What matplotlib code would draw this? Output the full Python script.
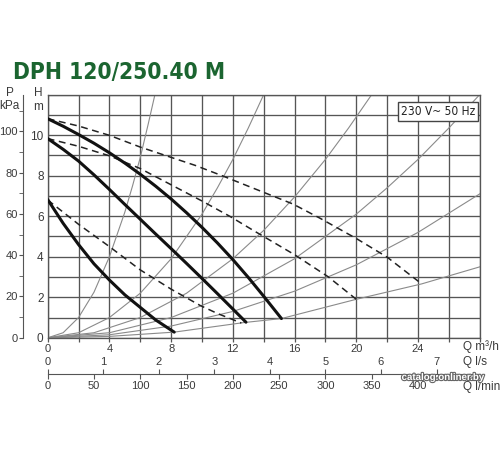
import os
import numpy as np
import matplotlib.pyplot as plt
from matplotlib import font_manager
from matplotlib.font_manager import FontProperties
import matplotlib.patheffects as pe

plt.rcParams['font.family'] = ['Liberation Sans', 'DejaVu Sans']


def narrow_font(bold):
    # look for any condensed / narrow face on the system
    best = None
    for f in font_manager.fontManager.ttflist:
        n = (f.name + ' ' + os.path.basename(f.fname)).lower()
        if 'narrow' not in n and 'condensed' not in n:
            continue
        if 'italic' in n or 'oblique' in n or 'light' in n or 'thin' in n:
            continue
        if ('bold' in n) != bold:
            continue
        rank = 0 if 'liberation' in n else 1 if 'dejavu' in n else 2
        if best is None or rank < best[0]:
            best = (rank, f.fname)
    return best[1] if best else None


TITLE = 'DPH 120/250.40 M'
NOTE = '230 V~ 50 Hz'

# pump curves, Q in m3/h, H in m (solid = max speed settings)
q_top = [0, 1, 2, 3, 4, 5, 6, 7, 8, 9, 10, 11, 12, 13, 14, 15.15]
h_top = [10.81, 10.44, 10.03, 9.6, 9.13, 8.62, 8.07, 7.48, 6.85, 6.17,
         5.45, 4.68, 3.86, 2.98, 2.05, 0.95]
q_mid = [0, 1, 2, 3, 4, 5, 6, 7, 8, 9, 10, 11, 12, 12.85]
h_mid = [9.83, 9.3, 8.72, 8.04, 7.32, 6.58, 5.85, 5.12, 4.4, 3.67, 2.93,
         2.18, 1.42, 0.77]
q_low = [0, 1, 2, 3, 4, 5, 6, 7, 8.2]
h_low = [6.82, 5.65, 4.6, 3.65, 2.85, 2.12, 1.5, 0.88, 0.28]

# dashed curves
qd_top = [0, 2, 4, 6, 9.55, 11.4, 13.1, 15.9, 17.65, 20.0, 22.0, 24.24]
hd_top = [10.81, 10.45, 9.99, 9.41, 8.51, 7.97, 7.45, 6.6, 5.9, 4.9, 3.98, 2.66]
qd_mid = [0, 2, 4, 6, 8, 10, 11.86, 13.3, 16.0, 18.18, 20.0]
hd_mid = [9.83, 9.45, 8.98, 8.35, 7.55, 6.75, 5.97, 5.31, 4.1, 3.01, 1.9]
qd_low = [0, 2, 4, 6, 8, 9.87, 11, 12.55]
hd_low = [6.8, 5.6, 4.5, 3.35, 2.4, 1.6, 1.2, 0.73]

# system curves
sys_q = [
    [0, 1, 2, 3, 4, 5, 5.5, 6, 6.5, 6.95],
    [0, 2, 4, 6, 8, 10, 11, 12, 13, 14],
    [0, 3, 6, 9, 12, 14, 16, 18, 19.5, 21],
    [0, 4, 8, 12, 16, 20, 22, 24, 26, 28],
    [0, 4, 8, 12, 16, 20, 24, 28],
    [0, 4, 8.2, 12.7, 15.15, 20, 24.24, 28],
]
sys_h = [
    [0, 0.25, 1.0, 2.25, 4.0, 6.2, 7.5, 8.9, 10.5, 12.0],
    [0, 0.25, 1.0, 2.2, 3.9, 6.1, 7.4, 8.8, 10.35, 12.0],
    [0, 0.25, 1.0, 2.2, 3.9, 5.3, 6.95, 8.8, 10.35, 12.0],
    [0, 0.25, 1.0, 2.2, 3.9, 6.1, 7.4, 8.8, 10.35, 12.0],
    [0, 0.15, 0.58, 1.3, 2.3, 3.6, 5.2, 7.1],
    [0, 0.07, 0.28, 0.75, 0.95, 1.9, 2.66, 3.5],
]

# axis ticks
m3h_ticks = [0, 4, 8, 12, 16, 20, 24]
h_ticks = [0, 2, 4, 6, 8, 10]
kpa_ticks = [0, 20, 40, 60, 80, 100]
ls_ticks = [0, 1, 2, 3, 4, 5, 6, 7]
lmin_ticks = [0, 50, 100, 150, 200, 250, 300, 350, 400]

nb = narrow_font(True)
nr = narrow_font(False)
if nb:
    title_fp = FontProperties(fname=nb, size=16.3)
else:
    title_fp = FontProperties(family='Liberation Sans', weight='bold', size=16.5)
if nr:
    note_fp = FontProperties(fname=nr, size=8.6)
else:
    note_fp = FontProperties(family='Liberation Sans', size=8.8)

W, H = 500, 450
fig = plt.figure(figsize=(5, 4.5), dpi=100)
L, B, Wd, Ht = 47.7 / W, 1 - 337.8 / H, 432 / W, 243.2 / H
ax = fig.add_axes([L, B, Wd, Ht])
ax.set_xlim(0, 28)
ax.set_ylim(0, 12)

grid_c = '#555555'
txt_c = '#3a3a3a'
xt = np.arange(0, 29, 2)
ax.set_xticks(xt)
ax.set_xticklabels([str(v) if v in m3h_ticks else '' for v in xt])
yt = np.arange(0, 13, 1)
ax.set_yticks(yt)
ax.set_yticklabels([str(v) if v in h_ticks else '' for v in yt])
ax.grid(True, color=grid_c, lw=0.95)
ax.tick_params(axis='x', length=3, width=0.9, color=grid_c, pad=1.5,
               labelsize=8, labelcolor=txt_c)
ax.tick_params(axis='y', length=0, pad=3, labelsize=8.5, labelcolor=txt_c)
for s in ax.spines.values():
    s.set_color(grid_c)
    s.set_linewidth(0.95)

for q, h in zip(sys_q, sys_h):
    ax.plot(q, h, color='#8a8a8a', lw=0.8, zorder=2)

for q, h in [(qd_top, hd_top), (qd_mid, hd_mid), (qd_low, hd_low)]:
    ax.plot(q, h, color='#222222', lw=1.1, dashes=(4.5, 3), zorder=3)
for q, h in [(q_top, h_top), (q_mid, h_mid), (q_low, h_low)]:
    ax.plot(q, h, color='#111111', lw=2.2, solid_capstyle='round', zorder=4)

ax.text(25.28, 11.15, NOTE, ha='center', va='center', fontproperties=note_fp,
        color='#222222', zorder=6,
        bbox=dict(boxstyle='square,pad=0.25', fc='white', ec='#444444', lw=1))

# kPa axis on the far left
axp = fig.add_axes([23.3 / W, B, 0.0001, Ht])
axp.patch.set_visible(False)
axp.set_ylim(0, 12 * 9.81)
axp.set_xticks([])
axp.set_yticks(kpa_ticks)
axp.set_yticks(np.arange(10, 120, 20), minor=True)
for k in ['top', 'right', 'bottom']:
    axp.spines[k].set_visible(False)
axp.spines['left'].set_color(grid_c)
axp.tick_params(axis='y', which='both', length=3, color=grid_c, pad=0.8,
                labelsize=8, labelcolor=txt_c)

# flow scales under the chart
yq = 1 - 374.3 / H
axq = fig.add_axes([L, yq, Wd, 0.0001])
axq.patch.set_visible(False)
axq.set_xlim(0, 28 / 0.06)
axq.set_yticks([])
axq.set_xticks(lmin_ticks)
for k in ['top', 'right', 'left']:
    axq.spines[k].set_visible(False)
axq.spines['bottom'].set_color(grid_c)
axq.tick_params(axis='x', length=3.5, color=grid_c, pad=1.5, labelsize=8,
                labelcolor=txt_c)
axs = axq.twiny()
axs.set_xlim(0, 28 / 3.6)
axs.set_xticks(ls_ticks)
for k in ['bottom', 'right', 'left', 'top']:
    axs.spines[k].set_visible(False)
axs.tick_params(axis='x', length=3.5, color=grid_c, pad=1.5, labelsize=8,
                labelcolor=txt_c)

# labels
fig.text(13 / W, 1 - 79 / H, TITLE, fontproperties=title_fp,
         color='#1b6530', va='baseline')
fig.text(10 / W, 1 - 93 / H, 'P', fontsize=8.5, color=txt_c, ha='center', va='center')
fig.text(9 / W, 1 - 106 / H, 'kPa', fontsize=8.5, color=txt_c, ha='center', va='center')
fig.text(38 / W, 1 - 93 / H, 'H', fontsize=8.5, color=txt_c, ha='center', va='center')
fig.text(38 / W, 1 - 107 / H, 'm', fontsize=8.5, color=txt_c, ha='center', va='center')
fig.text(463 / W, 1 - 347 / H, 'Q m³/h', fontsize=8.5, color=txt_c, va='center')
fig.text(463 / W, 1 - 362 / H, 'Q l/s', fontsize=8.5, color=txt_c, va='center')
fig.text(463 / W, 1 - 387 / H, 'Q l/min', fontsize=8.5, color=txt_c, va='center')

wm = fig.text(443 / W, 1 - 377 / H, 'catalog.onliner.by', fontsize=7,
              fontweight='bold', color='white', ha='center', va='center')
wm.set_path_effects([pe.withStroke(linewidth=1.6, foreground='#666666')])

fig.savefig('out.png', dpi=100)
